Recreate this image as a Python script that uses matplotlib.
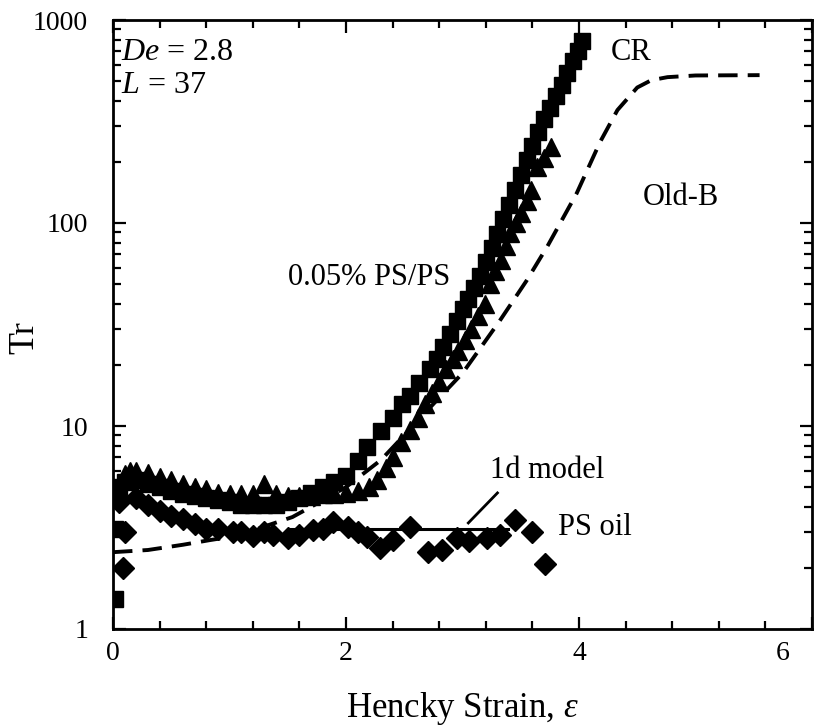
import matplotlib
matplotlib.use("Agg")
import matplotlib.pyplot as plt
from matplotlib.ticker import MultipleLocator, LogLocator, NullFormatter

plt.rcParams['font.family'] = ['Liberation Serif', 'DejaVu Serif']
plt.rcParams['mathtext.fontset'] = 'custom'
plt.rcParams['mathtext.rm'] = 'Liberation Serif'
plt.rcParams['mathtext.it'] = 'Liberation Serif:italic'

# 0.05% PS/PS, squares (CR)
sq_x = [0.02, 0.02, 0.05, 0.1, 0.2, 0.3, 0.4, 0.5, 0.6, 0.7, 0.8, 0.9, 1.0,
        1.1, 1.2, 1.3, 1.4, 1.5, 1.6, 1.7, 1.8, 1.9, 2.0, 2.1, 2.18, 2.3, 2.4,
        2.48, 2.55, 2.63, 2.72, 2.78, 2.83, 2.89, 2.95, 3.0, 3.05, 3.1, 3.15,
        3.2, 3.25, 3.3, 3.35, 3.4, 3.45, 3.5, 3.55, 3.6, 3.65, 3.7, 3.75,
        3.8, 3.85, 3.9, 3.95, 3.99, 4.03]
sq_y = [1.4, 3.1, 5.0, 5.3, 5.4, 5.2, 5.0, 4.8, 4.6, 4.5, 4.4, 4.3, 4.2,
        4.1, 4.1, 4.1, 4.1, 4.2, 4.4, 4.7, 5.0, 5.3, 5.7, 6.7, 7.9, 9.4, 11.0,
        12.8, 14.0, 16.3, 19.0, 21.5, 24.5, 28.5, 33.0, 37.5, 42.0, 48.0, 55.0,
        64.0, 75.0, 88.0, 105.0, 123.0, 145.0, 172.0, 205.0, 240.0, 280.0, 325.0, 370.0,
        420.0, 480.0, 550.0, 630.0, 700.0, 790.0]

# 0.05% PS/PS, triangles
tri_x = [0.05, 0.1, 0.15, 0.2, 0.3, 0.4, 0.5, 0.6, 0.7, 0.8, 0.9, 1.0, 1.1,
         1.2, 1.3, 1.4, 1.5, 1.6, 1.7, 1.8, 1.9, 2.0, 2.1, 2.2, 2.27, 2.34,
         2.4, 2.47, 2.55, 2.62, 2.68, 2.74, 2.8, 2.86, 2.92, 2.96, 3.02, 3.07,
         3.13, 3.19, 3.24, 3.28, 3.33, 3.37, 3.41, 3.46, 3.5, 3.55, 3.59,
         3.64, 3.7, 3.76]
tri_y = [4.8, 5.8, 6.0, 6.0, 5.9, 5.6, 5.4, 5.2, 5.0, 4.9, 4.7, 4.6, 4.6,
         4.6, 5.2, 4.6, 4.5, 4.5, 4.5, 4.6, 4.6, 4.7, 4.8, 5.0, 5.4, 6.2,
         7.0, 8.3, 9.6, 11.0, 12.8, 14.5, 16.5, 19.0, 21.5, 23.5, 26.5, 30.0,
         35.0, 40.0, 50.0, 58.0, 66.0, 77.0, 89.0, 100.0, 112.0, 128.0, 145.0,
         189.0, 210.0, 236.0]

# PS oil, diamonds
dia_x = [0.02, 0.05, 0.09, 0.1, 0.2, 0.3, 0.4, 0.5, 0.6, 0.7, 0.8, 0.9,
         1.03, 1.1, 1.2, 1.3, 1.37, 1.5, 1.6, 1.72, 1.8, 1.89, 2.02, 2.1,
         2.18, 2.29, 2.4, 2.55, 2.7, 2.82, 2.95, 3.06, 3.21, 3.32, 3.45,
         3.6, 3.71]
dia_y = [4.6, 4.2, 2.0, 3.0, 4.4, 4.1, 3.8, 3.6, 3.5, 3.3, 3.1, 3.1,
         3.0, 3.0, 2.87, 3.0, 2.9, 2.8, 2.9, 3.07, 3.1, 3.36, 3.18, 3.0,
         2.84, 2.5, 2.74, 3.18, 2.4, 2.45, 2.8, 2.7, 2.8, 2.9, 3.44,
         3.0, 2.1]

# Old-B model (dashed)
oldb_x = [0.0, 0.3, 0.6, 0.83, 1.1, 1.3, 1.54, 1.8, 2.0, 2.3, 2.5, 2.78,
          3.0, 3.32, 3.55, 3.73, 3.98, 4.18, 4.33, 4.5, 4.62, 4.76, 5.0, 5.55]
oldb_y = [2.39, 2.45, 2.6, 2.74, 2.9, 3.2, 3.56, 4.3, 5.0, 6.8, 9.0, 13.4,
          18.2, 33.0, 52.0, 77.0, 140.0, 250.0, 360.0, 465.0, 505.0, 523.0, 533.0, 535.0]

# 1d model (solid)
m1d_x = [1.5, 3.39]
m1d_y = [3.12, 3.12]

fig = plt.figure(figsize=(8.18, 7.27), dpi=100)
ax = fig.add_axes([113 / 818, 1 - 629 / 727, 699 / 818, 609 / 727])

ax.plot(oldb_x, oldb_y, color='black', lw=2.8, dashes=(5, 2.6), zorder=2)
ax.plot(m1d_x, m1d_y, color='black', lw=2.2, zorder=2)
ax.plot(dia_x, dia_y, 'D', color='black', ms=11, zorder=3)
ax.plot(tri_x, tri_y, '^', color='black', ms=13, zorder=3)
ax.plot(sq_x, sq_y, 's', color='black', ms=11.5, zorder=3)

# pointer to the 1d model line
ax.plot([3.05, 3.30], [3.33, 4.68], color='black', lw=2)

ax.set_yscale('log')
ax.set_xlim(0, 6)
ax.set_ylim(1, 1000)
ax.xaxis.set_major_locator(MultipleLocator(2))
ax.xaxis.set_minor_locator(MultipleLocator(0.4))
ax.yaxis.set_minor_locator(LogLocator(base=10, subs=range(2, 10)))
ax.yaxis.set_minor_formatter(NullFormatter())
ax.set_yticks([1, 10, 100, 1000])
ax.set_yticklabels(['1', '10', '100', '1000'])
ax.set_xticks([0, 2, 4, 6])
ax.set_xticklabels(['0', '2', '4', ''])

ax.tick_params(which='both', direction='in', top=True, right=True,
               labelsize=20, width=1.6, color='black')
ax.tick_params(which='major', length=9)
ax.tick_params(which='minor', length=6)
ax.tick_params(axis='y', pad=18)
ax.tick_params(axis='x', pad=9)
for sp in ax.spines.values():
    sp.set_linewidth(2)

# the "6" label sits a little inside the right end of the axis
ax.annotate('6', xy=(6, 0), xycoords=('data', 'axes fraction'),
            xytext=(-21, -9), textcoords='offset points',
            ha='center', va='top', fontsize=20)

ax.set_xlabel('Hencky Strain, $\\mathit{\\varepsilon}$', fontsize=25, labelpad=17)
ax.set_ylabel('Tr', fontsize=26)
ax.yaxis.set_label_coords(-0.102, 0.478)

ax.text(0.07, 688, '$\\mathit{De}$ = 2.8', fontsize=23, va='center')
ax.text(0.07, 478, '$\\mathit{L}$ = 37', fontsize=23, va='center')
ax.text(4.27, 695, 'CR', fontsize=22, va='center')
ax.text(4.55, 133, 'Old-B', fontsize=22, va='center')
ax.text(1.5, 54, '0.05% PS/PS', fontsize=22, va='center')
ax.text(3.24, 6.07, '1d model', fontsize=22, va='center')
ax.text(3.82, 3.18, 'PS oil', fontsize=22, va='center')

fig.savefig('out.png', dpi=100)
